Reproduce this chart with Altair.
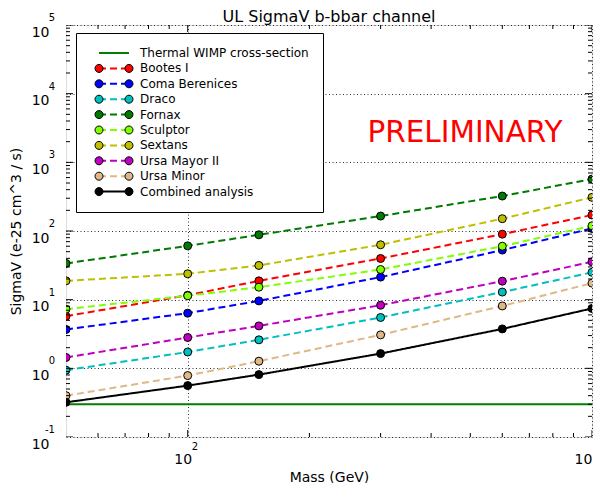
import altair as alt
import pandas as pd

# ---------------- data ----------------
MASS = [50, 100, 150, 300, 600, 1000]
BOOTES = [5.75, 11.6, 18.8, 39.8, 90, 171]
COMA = [3.68, 6.36, 9.6, 21.3, 52.7, 109]
DRACO = [0.94, 1.73, 2.6, 5.5, 12.9, 25]
FORNAX = [33.7, 60.8, 88, 165, 323, 571]
SCULPTOR = [7.27, 11.4, 15.2, 27.5, 60, 119]
SEXTANS = [18.8, 23.8, 31.5, 63, 151, 309]
UMA2 = [1.44, 2.81, 4.15, 8.3, 18.6, 35.6]
UMI = [0.40, 0.785, 1.27, 3.07, 8.1, 17.4]
COMBINED = [0.32, 0.56, 0.81, 1.64, 3.75, 7.45]
THERMAL_MASS = [50, 1000]
THERMAL = [0.3, 0.3]

NAMES = ["Thermal WIMP cross-section", "Bootes I", "Coma Berenices", "Draco", "Fornax",
         "Sculptor", "Sextans", "Ursa Mayor II", "Ursa Minor", "Combined analysis"]
COLORS = ["#008000", "#ff0000", "#0000ff", "#00bfbf", "#007a00",
          "#7fff00", "#bfbf00", "#bf00bf", "#deb887", "#000000"]
DASHES = [[1, 0], [7, 4], [7, 4], [7, 4], [7, 4], [7, 4], [7, 4], [7, 4], [7, 4], [1, 0]]
FILLS = ["transparent"] + COLORS[1:]
STROKES = ["transparent"] + ["#000000"] * 9

X_MAJOR_TICKS = [100, 1000]
X_MINOR_TICKS = [60, 70, 80, 90, 200, 300, 400, 500, 600, 700, 800, 900]
Y_MAJOR = [0.1, 1, 10, 100, 1000, 10000, 100000]
Y_EXPONENTS = ["-1", "0", "1", "2", "3", "4", "5"]
X_EXPONENTS = ["2", "3"]
Y_MINOR_TICKS = [m * 10.0 ** k for k in range(-1, 5) for m in range(2, 10)]

PRELIM_X = 485
PRELIM_Y = 1950

SERIES = [BOOTES, COMA, DRACO, FORNAX, SCULPTOR, SEXTANS, UMA2, UMI, COMBINED]

rows = []
for name, vals in zip(NAMES[1:], SERIES):
    for m, v in zip(MASS, vals):
        rows.append({"Mass": m, "SigmaV": v, "Source": name})
pts_df = pd.DataFrame(rows)
line_df = pd.concat([
    pd.DataFrame({"Mass": THERMAL_MASS, "SigmaV": THERMAL, "Source": NAMES[0]}),
    pts_df], ignore_index=True)

FONT = "DejaVu Sans"
W, H = 526, 412
xscale = alt.Scale(type="log", domain=[50, 1000], nice=False)
yscale = alt.Scale(type="log", domain=[0.1, 100000], nice=False)

xaxis = alt.Axis(values=X_MAJOR_TICKS, labelExpr="'10'", grid=True, gridDash=[1, 2.5],
                 gridColor="#000000", gridOpacity=0.8, gridWidth=1, domain=False, ticks=False,
                 tickSize=0, labelFont=FONT, labelFontSize=14, labelColor="black",
                 labelBaseline="alphabetic", labelAlign="center", labelPadding=26,
                 labelOffset={"condition": {"test": "datum.value > 500", "value": -9},
                              "value": -5},
                 labelFlush=False, labelOverlap=False,
                 titleFont=FONT, titleFontSize=14, titleFontWeight="normal", titleColor="black",
                 titleX=W / 2, titleY=44, titleBaseline="alphabetic", titleAlign="center")
yaxis = alt.Axis(values=Y_MAJOR, labelExpr="datum.value < 0.5 ? '10\u00a0' : '10'", grid=True,
                 gridDash=[1, 2.5], gridColor="#000000", gridOpacity=0.8, gridWidth=1,
                 domain=False, ticks=False, tickSize=0, labelFont=FONT, labelFontSize=14,
                 labelColor="black", labelAlign="right", labelBaseline="alphabetic",
                 labelOffset=11, labelPadding=17, labelFlush=False, labelOverlap=False,
                 titleFont=FONT, titleFontSize=14, titleFontWeight="normal", titleColor="black",
                 titleX=-49.5, titleY=H / 2, titleAngle=270, titleBaseline="middle",
                 titleAlign="center")

XT = "Mass (GeV)"
YT = "SigmaV (e-25 cm^3 / s)"

LEG_COMMON = dict(title=None, orient="none", legendX=10, legendY=8, symbolSize=100,
                  labelFont=FONT, labelFontSize=12, labelLimit=400, labelOffset=20,
                  labelExpr="datum.label + '\u00a0\u00a0\u00a0'",
                  padding=14, rowPadding=3.4, symbolOffset=18)
LINE_SYM = "M-3,0H3"
CIRCLES = ("M-2.2,0A0.8,0.8,0,1,1,-3.8,0A0.8,0.8,0,1,1,-2.2,0Z"
           "M3.8,0A0.8,0.8,0,1,1,2.2,0A0.8,0.8,0,1,1,3.8,0Z")
legA = alt.Legend(symbolType=LINE_SYM, symbolStrokeWidth=2, labelColor="black",
                  strokeColor="black", fillColor="white", **LEG_COMMON)
legB = alt.Legend(symbolType=CIRCLES, symbolStrokeWidth=1, labelColor="transparent",
                  **LEG_COMMON)

lines = alt.Chart(line_df).mark_line(strokeWidth=2, clip=True).encode(
    x=alt.X("Mass:Q", scale=xscale, axis=xaxis, title=XT),
    y=alt.Y("SigmaV:Q", scale=yscale, axis=yaxis, title=YT),
    color=alt.Color("Source:N", scale=alt.Scale(domain=NAMES, range=COLORS), legend=legA),
    strokeDash=alt.StrokeDash("Source:N", scale=alt.Scale(domain=NAMES, range=DASHES), legend=legA),
)

points = alt.Chart(pts_df).mark_point(shape="circle", filled=True, size=64, strokeWidth=1,
                                      opacity=1, clip=True).encode(
    x=alt.X("Mass:Q", scale=xscale, title=XT),
    y=alt.Y("SigmaV:Q", scale=yscale, title=YT),
    fill=alt.Fill("Source:N", scale=alt.Scale(domain=NAMES, range=FILLS), legend=legB),
    stroke=alt.Stroke("Source:N", scale=alt.Scale(domain=NAMES, range=STROKES), legend=legB),
)

xt_df = pd.DataFrame({"Mass": X_MINOR_TICKS + X_MAJOR_TICKS,
                      "len": [8] * len(X_MINOR_TICKS) + [14] * len(X_MAJOR_TICKS)})
yt_df = pd.DataFrame({"SigmaV": Y_MINOR_TICKS + Y_MAJOR,
                      "len": [8] * len(Y_MINOR_TICKS) + [14] * len(Y_MAJOR)})

def xticks(edge):
    return alt.Chart(xt_df).mark_tick(orient="vertical", clip=True, color="black",
                                      thickness=1, opacity=1).encode(
        x=alt.X("Mass:Q", scale=xscale, title=XT), y=alt.datum(edge),
        size=alt.Size("len:Q", scale=None))

def yticks(edge):
    return alt.Chart(yt_df).mark_tick(orient="horizontal", clip=True, color="black",
                                      thickness=1, opacity=1).encode(
        y=alt.Y("SigmaV:Q", scale=yscale, title=YT), x=alt.datum(edge),
        size=alt.Size("len:Q", scale=None))

yexp = alt.Chart(pd.DataFrame({"SigmaV": Y_MAJOR, "e": Y_EXPONENTS})).mark_text(
    align="right", baseline="alphabetic", dx=-11, dy=-4, fontSize=10, font=FONT,
    color="black").encode(x=alt.datum(50), y=alt.Y("SigmaV:Q", scale=yscale, title=YT),
                          text="e:N")
xexp = alt.Chart(pd.DataFrame({"Mass": X_MAJOR_TICKS, "e": X_EXPONENTS})).mark_text(
    align="left", baseline="alphabetic", dx=4, dy=13, fontSize=10, font=FONT,
    color="black").encode(x=alt.X("Mass:Q", scale=xscale, title=XT), y=alt.datum(0.1),
                          text="e:N")

prelim = alt.Chart(pd.DataFrame({"Mass": [PRELIM_X], "SigmaV": [PRELIM_Y],
                                 "t": ["PRELIMINARY"]})).mark_text(
    align="center", baseline="alphabetic", fontSize=29.5, font=FONT, color="#ff0000").encode(
    x=alt.X("Mass:Q", scale=xscale, title=XT), y=alt.Y("SigmaV:Q", scale=yscale, title=YT),
    text="t:N")

chart = alt.layer(
    lines, points, xticks(0.1), xticks(100000), yticks(50), yticks(1000), yexp, xexp, prelim
).resolve_legend(fill="independent", stroke="independent").properties(
    width=W, height=H,
    autosize=alt.AutoSizeParams(type="none"),
    padding={"left": 58, "top": 17, "right": 1, "bottom": 46},
    title=alt.TitleParams("UL SigmaV b-bbar channel", font=FONT, fontSize=16,
                          fontWeight="normal", color="black", anchor="middle", offset=-12),
).configure_view(stroke="black", strokeWidth=1.5, fill="white").configure(background="white")

chart.save("out.html", embed_options={"renderer": "svg", "actions": False})
